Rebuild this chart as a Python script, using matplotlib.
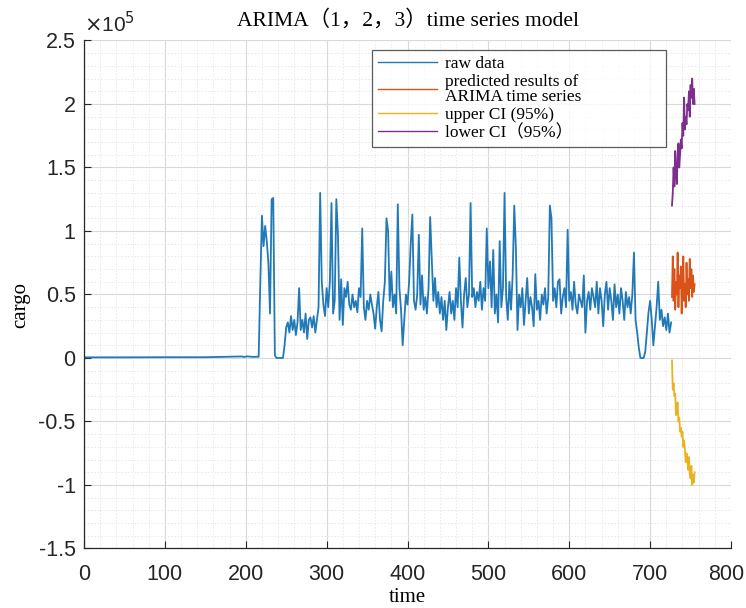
import numpy as np
import matplotlib
matplotlib.use("Agg")
import matplotlib.pyplot as plt
from matplotlib.ticker import FuncFormatter, MultipleLocator
from matplotlib.transforms import ScaledTranslation

# ---------------- data (cargo values in thousands) ----------------
flat_time = [0, 50, 100, 150, 195, 198, 202, 206, 210, 214]
flat_cargo_k = [0.5, 0.5, 0.6, 0.6, 1.2, 0.8, 1.3, 1.0, 0.9, 1.0]

main_start, main_step = 216, 2
main_cargo_k = [
    1, 60, 112, 88, 104, 92, 75, 35, 125, 126,            # 216-234
    2, 0, 0, 0, 0, 0, 10, 24, 28, 20,                     # 236-254
    33, 22, 30, 18, 28, 55, 22, 30, 20, 35,               # 256-274
    15, 30, 32, 24, 33, 20, 30, 40, 130, 60,              # 276-294
    42, 33, 55, 40, 60, 122, 35, 45, 125, 97,             # 296-314
    30, 62, 26, 55, 48, 60, 42, 38, 50, 40,               # 316-334
    45, 36, 55, 48, 102, 40, 30, 45, 38, 50,              # 336-354
    42, 35, 23, 40, 52, 30, 21, 45, 60, 110,              # 356-374
    100, 45, 68, 40, 50, 35, 121, 55, 38, 10,             # 376-394
    30, 50, 42, 60, 90, 113, 45, 38, 50, 97,              # 396-414
    42, 65, 38, 48, 35, 55, 111, 78, 45, 63,              # 416-434
    40, 52, 35, 48, 30, 45, 22, 40, 52, 35,               # 436-454
    45, 30, 55, 40, 79, 45, 24, 50, 63, 40,               # 456-474
    50, 122, 48, 55, 40, 52, 45, 60, 38, 55,              # 476-494
    45, 102, 55, 76, 40, 85, 35, 50, 28, 92,              # 496-514
    40, 55, 130, 48, 30, 60, 38, 65, 120, 87,             # 516-534
    22, 50, 40, 55, 26, 45, 63, 35, 48, 40,               # 536-554
    25, 66, 38, 45, 30, 50, 42, 55, 35, 48,               # 556-574
    120, 110, 45, 55, 40, 60, 62, 35, 48, 55,             # 576-594
    40, 101, 45, 52, 38, 60, 42, 35, 50, 45,              # 596-614
    40, 65, 20, 45, 52, 38, 55, 48, 40, 60,               # 616-634
    35, 55, 45, 25, 50, 60, 38, 55, 45, 30,               # 636-654
    58, 40, 50, 35, 55, 45, 30, 52, 40, 48,               # 656-674
    35, 50, 83, 30, 20, 8, 0, 0, 0, 5,                    # 676-694
    20, 36, 45, 30, 10, 25, 40, 60, 30, 38,               # 696-714
    25, 32, 22, 35, 20, 28,                               # 716-726
]

pred_start = 727
pred_cargo_k = [48, 80, 45, 70, 38, 60, 50, 83, 40, 65, 55, 72, 35, 60, 80,
                45, 58, 40, 75, 50, 62, 45, 78, 55, 70, 48, 65, 52, 58]
upper_ci_k = [-2, -25, -20, -30, -28, -45, -40, -35, -50, -47, -58, -55, -62,
              -58, -70, -65, -72, -82, -75, -80, -88, -78, -90, -95, -85,
              -100, -92, -98, -90]
lower_ci_k = [120, 130, 150, 135, 163, 145, 137, 160, 169, 150, 160, 172,
              165, 185, 175, 205, 180, 190, 184, 200, 195, 210, 190, 215,
              205, 220, 200, 212, 200]

labels = ["raw data", "predicted results of\nARIMA time series",
          "upper CI (95%)", "lower CI（95%）"]
title = "ARIMA（1，2，3）time series model"

# ---------------- build series ----------------
main_time = main_start + main_step * np.arange(len(main_cargo_k))
raw_t = np.concatenate([flat_time, main_time])
raw_y = np.concatenate([flat_cargo_k, main_cargo_k]) * 1000.0
pred_t = pred_start + np.arange(len(pred_cargo_k))

serif = ["Liberation Serif", "Noto Sans CJK SC", "DejaVu Serif"]
sans = ["Liberation Sans", "DejaVu Sans"]

fig = plt.figure(figsize=(7.46, 6.08), dpi=100)
ax = fig.add_axes([0.1126, 0.0979, 0.8673, 0.8355])

ax.plot(raw_t, raw_y, color="#2179b8", lw=1.3, label=labels[0])
ax.plot(pred_t, np.array(pred_cargo_k) * 1000, color="#D95319", lw=1.3, label=labels[1])
ax.plot(pred_t, np.array(upper_ci_k) * 1000, color="#EDB120", lw=1.3, label=labels[2])
ax.plot(pred_t, np.array(lower_ci_k) * 1000, color="#7E2F8E", lw=1.3, label=labels[3])

ax.set_xlim(0, 800)
ax.set_ylim(-1.5e5, 2.5e5)
ax.xaxis.set_major_locator(MultipleLocator(100))
ax.xaxis.set_minor_locator(MultipleLocator(20))
ax.yaxis.set_major_locator(MultipleLocator(0.5e5))
ax.yaxis.set_minor_locator(MultipleLocator(0.1e5))
ax.yaxis.set_major_formatter(FuncFormatter(lambda v, p: f"{v/1e5:g}"))

ax.grid(which="major", color="#d9d9d9", lw=0.8, ls="-")
ax.grid(which="minor", color="#e6e6e6", lw=0.6, ls=(0, (2, 2)))
ax.set_axisbelow(True)

for s in ["top", "right"]:
    ax.spines[s].set_visible(False)
for s in ["left", "bottom"]:
    ax.spines[s].set_color("#262626")
    ax.spines[s].set_linewidth(0.9)

ax.tick_params(which="major", direction="in", length=5, width=0.8,
               colors="#262626", labelsize=15.5)
ax.tick_params(which="minor", length=0)
ax.tick_params(axis="x", pad=11)
ax.tick_params(axis="y", pad=6)

ax.text(0.0, 1.008, r"$\times$10$^5$", transform=ax.transAxes, ha="left",
        va="bottom", fontsize=15, family=sans, color="#262626")

ax.set_title(title, family=serif, fontsize=15.5, pad=11)
ax.set_xlabel("time", family=serif, fontsize=15, labelpad=2)
ax.set_ylabel("cargo", family=serif, fontsize=15)
ax.yaxis.set_label_coords(-0.083, 0.48)

leg = ax.legend(loc="upper left", bbox_to_anchor=(0.445, 0.982, 0.454, 0.0),
                mode="expand",
                prop={"family": serif, "size": 12.5}, handlelength=3.4,
                frameon=True, fancybox=False, borderpad=0.35,
                labelspacing=0.1, handletextpad=0.45, borderaxespad=0)
leg.get_frame().set_edgecolor("#333333")
leg.get_frame().set_linewidth(0.9)
for t in leg.get_texts():
    t.set_linespacing(0.95)
for line in leg.get_lines():
    line.set_linewidth(1.0)

fig.canvas.draw()
for lab in ax.get_xticklabels() + ax.get_yticklabels():
    lab.set_family(sans)
# keep the last x tick label ("800") inside the canvas edge
for tick in ax.xaxis.get_major_ticks():
    if abs(tick.get_loc() - 800) < 1e-6:
        tick.label1.set_transform(tick.label1.get_transform() +
                                  ScaledTranslation(-3.5 / 72, 0, fig.dpi_scale_trans))

fig.savefig("out.png", dpi=100)
